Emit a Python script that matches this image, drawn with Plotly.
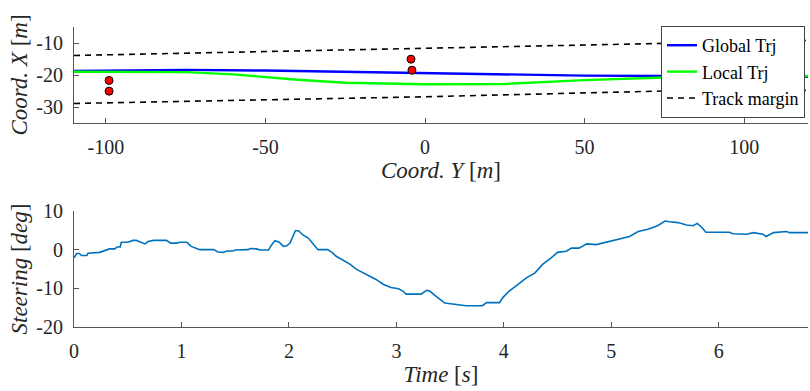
import plotly.graph_objects as go

# ---------------- data: top plot (track) ----------------
global_y = [-110, -75, -50, -25, 0, 25, 50, 75, 100, 120]
global_x = [-18.7, -18.4, -18.6, -19.0, -19.5, -19.9, -20.2, -20.3, -20.5, -20.6]

local_y = [-110, -90, -75, -60, -50, -40, -25, -10, 0, 25, 50, 75, 100, 120]
local_x = [-19.0, -19.0, -19.1, -19.8, -20.6, -21.5, -22.4, -22.8, -22.9, -22.8, -21.6, -20.8, -20.4, -20.3]

margin_y = [-110, -100, 0, 75, 120]
margin_top_x = [-13.9, -13.7, -11.6, -10.0, -9.2]
margin_bot_x = [-28.9, -28.7, -26.8, -25.0, -24.8]

obst_y = [-99.0, -99.0, -4.4, -4.1]
obst_x = [-21.7, -25.05, -15.05, -18.5]

top_xticks = [-100, -50, 0, 50, 100]
top_xticklabels = ["-100", "-50", "0", "50", "100"]
top_yticks = [-10, -20, -30]
top_yticklabels = ["-10", "-20", "-30"]

# ---------------- data: bottom plot (steering) ----------------
time_s = [0.0, 0.025, 0.05, 0.07, 0.12, 0.13, 0.24, 0.29, 0.33, 0.38, 0.40, 0.43, 0.44, 0.50,
          0.55, 0.58, 0.66, 0.69, 0.74, 0.80, 0.86, 0.90, 0.95, 0.99, 1.05, 1.09, 1.14, 1.17,
          1.30, 1.34, 1.39, 1.42, 1.48, 1.50, 1.62, 1.64, 1.70, 1.73, 1.81, 1.84, 1.87, 1.91,
          1.95, 1.98, 2.01, 2.04, 2.06, 2.09, 2.13, 2.18, 2.22, 2.27, 2.36, 2.40, 2.44, 2.50,
          2.57, 2.63, 2.69, 2.75, 2.81, 2.88, 2.95, 3.02, 3.06, 3.09, 3.23, 3.28, 3.31, 3.37,
          3.42, 3.45, 3.54, 3.65, 3.80, 3.84, 3.96, 3.99, 4.05, 4.11, 4.21, 4.29, 4.36, 4.44,
          4.50, 4.58, 4.63, 4.70, 4.77, 4.86, 4.97, 5.08, 5.17, 5.25, 5.34, 5.43, 5.50, 5.54,
          5.62, 5.70, 5.76, 5.80, 5.84, 5.88, 6.10, 6.13, 6.26, 6.32, 6.41, 6.44, 6.51, 6.63,
          6.66, 6.83]
steering_deg = [-2.1, -1.0, -1.0, -1.5, -1.5, -0.9, -0.7, -0.3, 0.2, 0.2, 0.7, 0.7, 1.9, 1.9,
                2.4, 2.4, 1.5, 2.1, 2.4, 2.4, 2.4, 1.7, 1.7, 1.9, 1.9, 0.85, 0.35, 0.0,
                0.0, -0.6, -0.7, -0.35, -0.35, -0.1, 0.0, 0.3, 0.2, -0.1, -0.1, 1.3, 2.3, 1.9,
                0.85, 1.0, 1.7, 3.6, 4.9, 4.9, 3.8, 3.0, 1.7, 0.0, 0.0, -0.7, -1.7, -2.6,
                -3.8, -5.1, -6.0, -7.0, -7.7, -9.0, -9.8, -10.1, -10.7, -11.5, -11.5, -10.5, -10.7, -12.1,
                -13.2, -13.8, -14.1, -14.5, -14.5, -13.7, -13.7, -12.4, -10.7, -9.4, -7.3, -6.0, -3.8, -2.1,
                -0.7, -0.4, 0.4, 0.4, 1.5, 1.3, 2.1, 2.7, 3.4, 4.7, 5.3, 6.2, 7.4, 7.2,
                7.0, 6.4, 6.2, 6.8, 5.8, 4.5, 4.5, 4.1, 4.0, 4.4, 4.0, 3.4, 4.4, 4.7,
                4.4, 4.4]

bot_xticks = [0, 1, 2, 3, 4, 5, 6]
bot_yticks = [-20, -10, 0, 10]
bot_yticklabels = ["-20", "-10", "0", "10"]

SERIF = "Liberation Serif, Times New Roman, DejaVu Serif, serif"
AX_COL = "#555555"
TXT_COL = "#262626"

fig = go.Figure()

fig.add_trace(go.Scatter(x=global_y, y=global_x, mode="lines", name="Global Trj",
                         line=dict(color="#0000FF", width=2.4), xaxis="x", yaxis="y"))
fig.add_trace(go.Scatter(x=local_y, y=local_x, mode="lines", name="Local Trj",
                         line=dict(color="#00FF00", width=2.4), xaxis="x", yaxis="y"))
fig.add_trace(go.Scatter(x=margin_y, y=margin_top_x, mode="lines", name="Track margin",
                         line=dict(color="black", width=1.6, dash="6px,5px"), xaxis="x", yaxis="y"))
fig.add_trace(go.Scatter(x=margin_y, y=margin_bot_x, mode="lines", name="Track margin",
                         showlegend=False,
                         line=dict(color="black", width=1.6, dash="6px,5px"), xaxis="x", yaxis="y"))
fig.add_trace(go.Scatter(x=obst_y, y=obst_x, mode="markers", showlegend=False,
                         marker=dict(color="#FF0000", size=8, line=dict(color="black", width=1)),
                         xaxis="x", yaxis="y"))

fig.add_trace(go.Scatter(x=time_s, y=steering_deg, mode="lines", showlegend=False,
                         line=dict(color="#0072BD", width=1.6), xaxis="x2", yaxis="y2"))

W, H = 810, 391
xdom = [74 / W, 808 / W]

common_axis = dict(showgrid=False, zeroline=False, showline=True, linecolor=AX_COL, linewidth=1,
                   ticks="inside", ticklen=5, tickcolor=AX_COL, mirror=False, automargin=False,
                   tickfont=dict(family=SERIF, size=20, color=TXT_COL))

fig.update_layout(
    width=W, height=H,
    margin=dict(l=0, r=0, t=0, b=0),
    paper_bgcolor="white", plot_bgcolor="white",
    font=dict(family=SERIF),
    showlegend=True,
    legend=dict(x=805 / W, y=1 - 26 / H, xanchor="right", yanchor="top",
                bgcolor="white", bordercolor="#444444", borderwidth=1,
                font=dict(family=SERIF, size=18, color="black"),
                tracegroupgap=0, itemwidth=30),
    xaxis=dict(domain=xdom, anchor="y", range=[-110, 120],
               tickvals=top_xticks, ticktext=top_xticklabels, ticklabelstandoff=6,
               title=dict(text="<i>Coord. Y</i> [<i>m</i>]", font=dict(family=SERIF, size=23, color=TXT_COL),
                          standoff=4),
               **common_axis),
    yaxis=dict(domain=[1 - 123 / H, 1 - 27 / H], anchor="x", range=[-35, -5],
               tickvals=top_yticks, ticktext=top_yticklabels, ticklabelstandoff=6,
               title=dict(text="<i>Coord. X</i> [<i>m</i>]", font=dict(family=SERIF, size=23, color=TXT_COL),
                          standoff=2),
               **common_axis),
    xaxis2=dict(domain=xdom, anchor="y2", range=[0, 6.83],
                tickvals=bot_xticks, ticklabelstandoff=6,
                title=dict(text="<i>Time</i> [<i>s</i>]", font=dict(family=SERIF, size=23, color=TXT_COL),
                           standoff=4),
                **common_axis),
    yaxis2=dict(domain=[1 - 327 / H, 1 - 211 / H], anchor="x2", range=[-20, 10],
                tickvals=bot_yticks, ticktext=bot_yticklabels, ticklabelstandoff=6,
                title=dict(text="<i>Steering</i> [<i>deg</i>]", font=dict(family=SERIF, size=23, color=TXT_COL),
                           standoff=2),
                **common_axis),
)

fig.write_html("out.html", config={"displayModeBar": False},
               post_script="document.body.style.margin='0';document.body.style.overflow='hidden';")
